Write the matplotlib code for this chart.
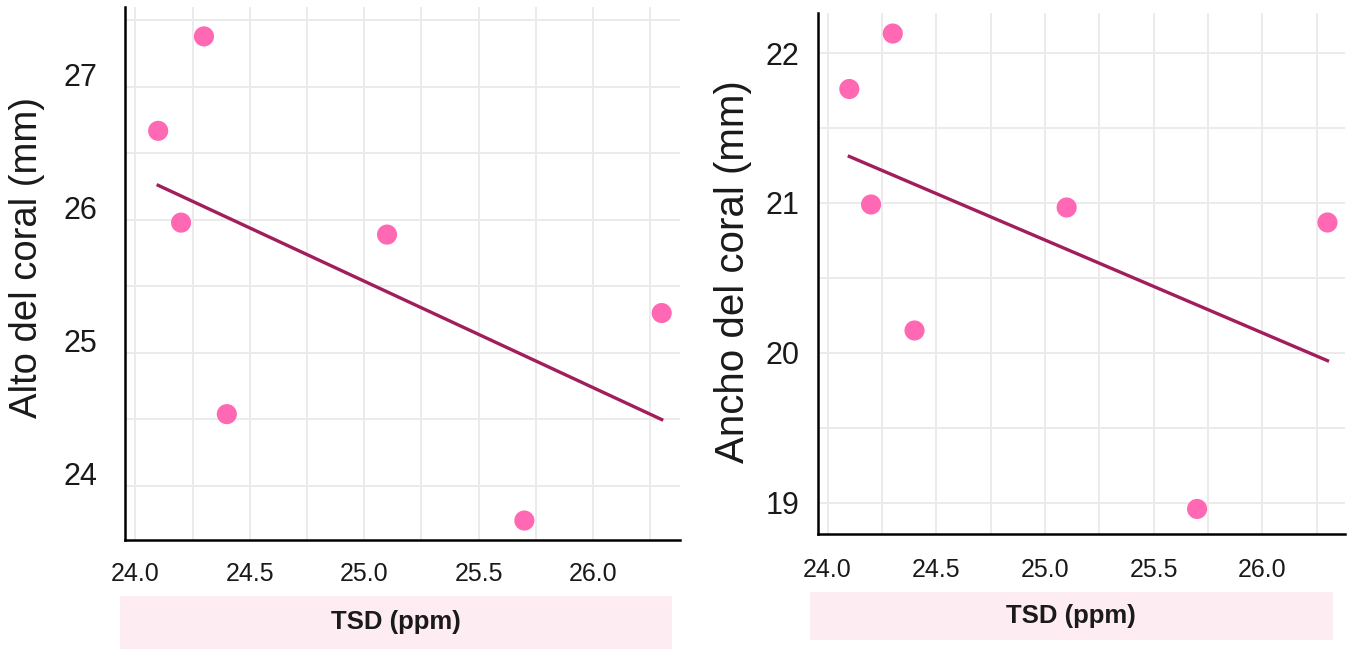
import matplotlib
matplotlib.use("Agg")
import matplotlib.pyplot as plt
import matplotlib.transforms as mtransforms
from matplotlib.patches import Rectangle
from matplotlib.ticker import MultipleLocator
import numpy as np

plt.rcParams["font.family"] = ["Liberation Sans", "DejaVu Sans"]

# data
tsd = [24.1, 24.3, 24.2, 24.4, 25.1, 25.7, 26.3]
alto = [26.67, 27.38, 25.98, 24.54, 25.89, 23.74, 25.30]
ancho = [21.76, 22.13, 20.99, 20.15, 20.97, 18.96, 20.87]

xlabel = "TSD (ppm)"
ylabels = ["Alto del coral (mm)", "Ancho del coral (mm)"]

point_color = "#ff69b4"
line_color = "#a21d5b"
grid_color = "#ebebeb"
box_color = "#fdecf1"

fig = plt.figure(figsize=(13.63, 6.49), dpi=100)
ax1 = fig.add_axes([0.0917, 0.168, 0.4072, 0.821])
ax2 = fig.add_axes([0.600, 0.1772, 0.3867, 0.8028])


def draw(ax, x, y, ylabel, ylim, label_xy, ylab_size, ypad, xpad):
    x = np.asarray(x)
    y = np.asarray(y)
    m, b = np.polyfit(x, y, 1)
    xs = np.array([x.min(), x.max()])
    ax.plot(xs, m * xs + b, color=line_color, lw=2.4, zorder=3)
    ax.scatter(x, y, s=210, color=point_color, edgecolors="none", zorder=4)

    ax.set_xlim(23.955, 26.38)
    ax.set_ylim(*ylim)
    ax.xaxis.set_major_locator(MultipleLocator(0.5))
    ax.xaxis.set_minor_locator(MultipleLocator(0.25))
    ax.yaxis.set_major_locator(MultipleLocator(1))
    ax.yaxis.set_minor_locator(MultipleLocator(0.5))
    ax.xaxis.set_major_formatter(matplotlib.ticker.FormatStrFormatter("%.1f"))
    ax.grid(True, which="both", color=grid_color, lw=1.4, zorder=0)
    ax.set_axisbelow(True)

    for s in ["top", "right"]:
        ax.spines[s].set_visible(False)
    for s in ["left", "bottom"]:
        ax.spines[s].set_linewidth(1.8)
        ax.spines[s].set_color("black")

    ax.tick_params(which="both", length=0)
    ax.tick_params(axis="x", labelsize=18, pad=xpad, colors="#1a1a1a")
    ax.tick_params(axis="y", labelsize=22, pad=ypad, colors="#1a1a1a")

    ax.set_ylabel(ylabel, fontsize=ylab_size, color="#1a1a1a")
    ax.yaxis.set_label_coords(*label_xy)


draw(ax1, tsd, alto, ylabels[0], (23.594, 27.60), (-0.144, 0.531), 27.5, 20, 16)
draw(ax2, tsd, ancho, ylabels[1], (18.793, 22.267), (-0.125, 0.503), 29, 13, 17)

# left panel tick labels sit a little above their grid lines
offset = mtransforms.ScaledTranslation(0, 12 / 100, fig.dpi_scale_trans)
for lab in ax1.get_yticklabels():
    lab.set_transform(lab.get_transform() + offset)

# pink x-label boxes
for (x0, y0, w, h) in [(0.088, 0.0, 0.405, 0.0817), (0.594, 0.0139, 0.3837, 0.074)]:
    fig.patches.append(Rectangle((x0, y0), w, h, transform=fig.transFigure,
                                 facecolor=box_color, edgecolor="none", zorder=0))
    fig.text(x0 + w / 2, y0 + h / 2, xlabel, ha="center", va="center",
             fontsize=18.5, fontweight="bold", color="#1a1a1a")

fig.savefig("out.png", dpi=100)
